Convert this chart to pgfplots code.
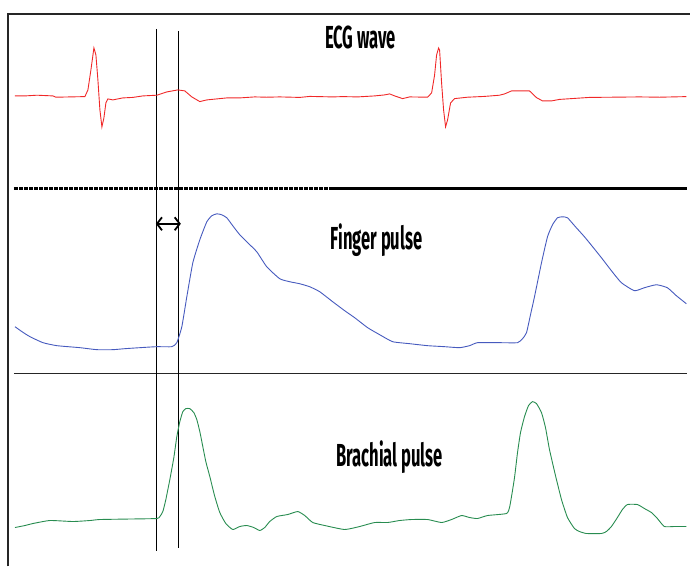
\documentclass[border=0pt]{standalone}
\usepackage{pgfplots}
\pgfplotsset{compat=1.18}
\usepackage{fontspec}
\usetikzlibrary{arrows.meta}
\newfontfamily\labfont[FakeStretch=0.52]{Fira Sans}
\definecolor{ecgred}{RGB}{240,40,40}
\definecolor{fingblue}{RGB}{70,90,190}
\definecolor{brgreen}{RGB}{40,140,80}
\begin{document}
\begin{tikzpicture}
\begin{axis}[
  width=691bp, height=567bp, scale only axis,
  xmin=0, xmax=691, ymin=0, ymax=567, y dir=reverse,
  hide axis, clip=false,
]
\addplot[draw=none] coordinates {(0,0)(691,567)};
% frame
\addplot[black!85, line width=1.3bp] coordinates {(8,567)(8,14)(691,14)};
% separators
\addplot[black, line width=2.6bp, dash pattern=on 4bp off 1bp] coordinates {(14,188.5)(330,188.5)};
\addplot[black, line width=2.6bp] coordinates {(330,188.5)(688,188.5)};
\addplot[black!85, line width=1.2bp] coordinates {(14,374)(688,374)};
% verticals
\addplot[black, line width=0.9bp] coordinates {(157,29)(157,552)};
\addplot[black, line width=0.9bp] coordinates {(179,31)(179,549)};
% arrow
\addplot[black, line width=1.8bp, {Straight Barb[length=5bp,width=13bp]}-{Straight Barb[length=5bp,width=13bp]}] coordinates {(156,224)(181,224)};
% ECG
\addplot[ecgred, line width=0.9bp] coordinates {
(15,96)(25,96)(37,95.3)(53,96)(56,97.3)(70,97)(85,96.7)(88,90)(91,70)(94,48)(96,55)(98,80)(100,110)(102,127)(104,118)(106,103)(108,99)(113,100)(118,99)(123,98)(133,97.5)(143,96)(157,95.3)(167,92)(178,90)(185,91)(192,97)(200,101.7)(207,100)(217,99)(227,98)(240,98)(255,97)(267,97.3)(280,97)(300,97.5)(310,96.5)(333,97)(343,96.7)(358,97)(375,96)(385,95)(390,94)(395,96)(403,98.7)(410,97)(428,97.3)(432,93)(435,75)(437,55)(439,48)(440,50)(442,83)(444,110)(446,127)(448,120)(451,103)(455,98.7)(468,97.3)(485,96.5)(500,95.3)(505,94)(512,91)(530,91)(537,97.7)(543,101)(552,101)(560,99.5)(572,98.7)(590,97.5)(612,97.3)(640,97)(660,97.3)(687,96.7)};
% Finger
\addplot[fingblue, line width=0.9bp, smooth, tension=0.3] coordinates {
(15,327)(22,332)(30,337)(43,343)(57,346)(80,348)(97,350)(113,350)(125,349)(140,348)(157,347)(172,347)(177,343)(182,327)(187,297)(193,263)(200,240)(207,222)(212,216)(217,214)(222,215)(227,218)(233,226)(240,235)(248,243)(257,252)(267,267)(280,279)(290,282)(300,284)(310,287)(320,292)(333,302)(345,311)(355,318)(368,328)(380,335)(393,342)(410,344)(428,346)(445,347)(460,348)(470,346)(478,343)(500,343)(518,343)(523,339)(527,333)(531,315)(535,297)(542,263)(548,237)(553,225)(558,218)(563,217)(568,218)(576,227)(585,237)(594,248)(602,258)(612,271)(622,283)(635,291)(645,288)(657,285)(668,288)(677,296)(687,304)};
% Brachial
\addplot[brgreen, line width=0.9bp, smooth, tension=0.3] coordinates {
(15,528)(25,526)(33,524)(50,521)(73,522)(90,521)(100,520)(130,519.5)(157,519)(160,517)(163,512)(166,500)(170,480)(174,458)(177,437)(180,422)(183,412)(186,409)(190,409)(194,413)(197,420)(200,432)(203,447)(206,462)(210,477)(215,497)(220,513)(226,524)(233,530)(240,527)(247,526)(254,528)(260,531)(265,528)(270,522)(277,517)(288,515)(298,512)(305,516)(313,523)(325,526)(345,530)(360,527)(375,523)(388,523)(400,521)(412,520)(428,520)(442,523)(452,520)(462,516)(470,518)(478,519)(488,516)(507,514)(510,508)(512,497)(515,478)(518,453)(521,433)(525,417)(529,406)(533,402)(537,404)(542,413)(546,428)(550,450)(556,476)(562,500)(568,518)(575,529)(580,532)(587,534)(602,534)(607,532)(612,527)(618,518)(623,510)(628,505)(638,505)(645,509)(652,513)(658,519)(665,527)(675,527)(687,527)};
% labels
\node[anchor=base, inner sep=0pt, font=\labfont\bfseries\fontsize{32}{32}\selectfont] at (axis cs:361,49) {ECG wave};
\node[anchor=base, inner sep=0pt, font=\labfont\bfseries\fontsize{32}{32}\selectfont] at (axis cs:377,250) {Finger pulse};
\node[anchor=base, inner sep=0pt, font=\labfont\bfseries\fontsize{32}{32}\selectfont] at (axis cs:390,467) {Brachial pulse};
\end{axis}
\end{tikzpicture}
\end{document}
